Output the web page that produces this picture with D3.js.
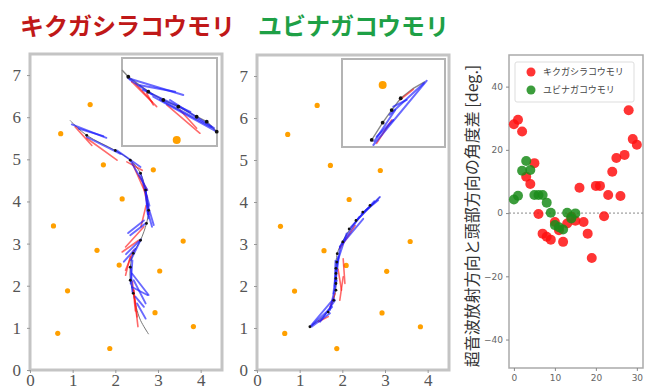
<!DOCTYPE html>
<html>
<head>
<meta charset="utf-8">
<script src="https://cdn.jsdelivr.net/npm/d3@7"></script>
<style>
  body { margin: 0; background: #fff; }
  svg { display: block; font-family: "Noto Sans CJK JP", "Noto Sans", sans-serif; }
</style>
</head>
<body>
<svg id="chart" width="645" height="389"></svg>
<script>
// ---- data ----
// landmarks (orange), same layout for both species
const landmarks = [
	[1.41, 6.30], [0.72, 5.61], [1.72, 4.87], [2.89, 4.75], [2.16, 4.06],
	[0.55, 3.42], [3.59, 3.06], [1.57, 2.84], [2.09, 2.49], [3.04, 2.35],
	[0.88, 1.88], [2.93, 1.36], [0.65, 0.87], [3.83, 1.03], [1.87, 0.51]
];

// キクガシラコウモリ track
const rhPath = [
	[0.94, 5.92], [1.33, 5.57], [2.00, 5.21], [2.35, 4.98], [2.59, 4.67],
	[2.71, 4.27], [2.78, 3.79], [2.73, 3.48], [2.59, 3.08], [2.42, 2.77],
	[2.35, 2.44], [2.35, 2.13], [2.42, 1.82], [2.49, 1.49], [2.59, 1.18], [2.78, 0.85]
];
const rhDots = [
	[1.33, 5.57], [2.00, 5.21], [2.35, 4.98], [2.59, 4.67], [2.71, 4.27],
	[2.78, 3.79], [2.73, 3.48], [2.59, 3.08], [2.42, 2.77], [2.35, 2.44],
	[2.35, 2.13], [2.42, 1.82]
];
// blue: sonar beam direction, red: head direction  [x0, y0, x1, y1]
const rhBlue = [
	[0.98, 5.83, 1.79, 5.51], [1.14, 5.73, 1.72, 5.55], [1.33, 5.53, 2.12, 5.13],
	[2.04, 5.21, 2.59, 4.82], [2.35, 4.98, 2.75, 4.27], [2.75, 3.95, 2.90, 3.44],
	[2.75, 3.79, 2.86, 3.40], [2.71, 3.48, 2.35, 3.20], [2.67, 3.55, 2.30, 3.25],
	[2.47, 2.88, 2.20, 2.57], [2.55, 3.05, 2.25, 2.75], [2.39, 2.29, 2.78, 1.78],
	[2.39, 1.97, 2.75, 1.78], [2.47, 1.74, 2.67, 1.50], [2.51, 1.58, 2.71, 1.22],
	[2.43, 2.13, 2.71, 1.58], [2.40, 2.60, 2.36, 2.05], [2.70, 4.30, 2.76, 3.70],
	[2.59, 4.67, 2.80, 3.90], [2.71, 4.27, 2.78, 3.60], [2.60, 3.10, 2.36, 2.60],
	[2.36, 2.45, 2.40, 1.85]
];
const rhRed = [
	[1.06, 5.77, 1.45, 5.33], [1.33, 5.50, 2.04, 4.98], [2.27, 4.94, 2.63, 4.74],
	[2.55, 4.62, 2.75, 4.27], [2.67, 3.40, 2.24, 2.92], [2.55, 3.08, 2.16, 2.80],
	[2.43, 2.84, 2.24, 2.37], [2.35, 2.69, 2.24, 2.25], [2.43, 1.90, 2.51, 1.26],
	[2.43, 1.90, 2.53, 1.03], [2.40, 2.10, 2.47, 1.40], [2.72, 3.90, 2.60, 3.40],
	[2.40, 4.90, 2.75, 4.10], [2.65, 4.40, 2.80, 3.70]
];
// inset (zoom on the start of the track), inset units
const rhInsetPath = [
	[0.00, 8.00], [0.66, 7.29], [2.77, 5.72], [4.35, 4.84], [5.93, 4.14],
	[7.86, 3.08], [8.92, 2.56], [9.97, 1.51]
];
const rhInsetBlue = [
	[0.66, 7.13, 6.45, 5.37], [1.90, 6.40, 5.60, 5.70], [3.29, 5.19, 9.97, 1.51],
	[5.05, 4.84, 9.68, 1.89], [2.20, 5.90, 7.20, 3.60], [4.00, 4.90, 9.40, 2.00],
	[0.80, 7.00, 3.20, 5.40]
];
const rhInsetRed = [
	[1.02, 6.77, 3.65, 4.14], [2.60, 5.55, 3.29, 4.32], [4.71, 4.32, 8.21, 1.34],
	[6.10, 3.79, 7.86, 1.87], [1.40, 6.60, 3.20, 4.60]
];
const rhInsetMark = [5.76, 0.63];

// ユビナガコウモリ track
const miPath = [
	[1.24, 1.03], [1.63, 1.35], [1.79, 1.66], [1.85, 1.98], [1.85, 2.38],
	[1.88, 2.77], [2.02, 3.09], [2.18, 3.36], [2.37, 3.60], [2.53, 3.80],
	[2.72, 3.96], [2.88, 4.12]
];
const miDots = [
	[1.24, 1.03], [1.67, 1.38], [1.80, 1.66], [1.85, 1.90], [1.85, 2.06],
	[1.85, 2.18], [1.85, 2.30], [1.85, 2.42], [1.87, 2.57], [1.88, 2.77],
	[2.01, 3.05], [2.16, 3.36], [2.32, 3.56], [2.48, 3.76], [2.65, 3.92]
];
const miBlue = [
	[1.28, 1.03, 1.71, 1.35], [1.48, 1.15, 1.83, 1.66], [1.71, 1.43, 1.87, 2.14],
	[1.79, 1.82, 1.90, 2.69], [1.87, 2.53, 2.10, 3.25], [1.94, 2.93, 2.49, 3.60],
	[2.33, 3.56, 2.88, 4.12], [2.45, 3.72, 2.84, 4.04], [1.30, 1.08, 1.76, 1.50],
	[1.82, 2.00, 1.84, 2.60], [1.26, 1.05, 1.80, 1.70], [1.84, 2.10, 1.95, 2.95],
	[1.98, 3.00, 2.40, 3.65], [2.20, 3.40, 2.75, 4.02]
];
const miRed = [
	[1.44, 1.15, 1.67, 1.27], [1.71, 1.50, 1.83, 1.82], [2.02, 2.65, 2.06, 2.06],
	[1.94, 2.89, 2.30, 3.44], [2.02, 2.22, 1.94, 1.66], [1.90, 2.40, 1.98, 1.90]
];
const miInsetPath = [
	[3.13, 0.74], [4.28, 2.56], [5.23, 3.89], [6.18, 5.13], [7.51, 6.18], [8.74, 6.87]
];
const miInsetDots = [[3.13, 0.74], [4.28, 2.56], [5.23, 3.89], [6.18, 5.13]];
const miInsetBlue = [
	[3.30, 0.21, 8.92, 6.98], [3.65, 1.08, 5.40, 2.84], [5.40, 4.24, 6.81, 4.95],
	[3.40, 0.60, 5.60, 3.90], [5.00, 3.40, 8.60, 6.70]
];
const miInsetRed = [[3.65, 0.39, 5.23, 2.84], [6.10, 4.95, 7.51, 6.07]];
const miInsetMark = [4.28, 6.53];

// angle difference between sonar beam and head direction [deg.]
const rhAngle = [
	28.1, 29.5, 25.8, 11.5, 9.2, 15.8, -0.3, -6.5, -7.5, -8.4, -2.8,
	-5.4, -9.1, -3.3, -1.2, -2.4, 8.0, -2.8, -6.5, -14.2, 8.6, 8.6,
	-1.0, 5.7, 13.1, 17.4, 5.4, 18.4, 32.5, 23.4, 21.6
];
const miAngle = [
	4.3, 5.5, 13.4, 16.5, 13.6, 5.7, 5.7, 5.7, 3.3, 0.1, -3.8,
	-4.5, -5.2, 0.1, -1.7, -0.1
];

const titles = ["キクガシラコウモリ", "ユビナガコウモリ"];
const legendLabels = ["キクガシラコウモリ", "ユビナガコウモリ"];
const yLabel = "超音波放射方向と頭部方向の角度差 [deg.]";
const trackTicks = [0, 1, 2, 3, 4];
const trackYTicks = [0, 1, 2, 3, 4, 5, 6, 7];
const angleXTicks = [0, 10, 20, 30];
const angleYTicks = [-40, -20, 0, 20, 40];

// ---- drawing ----
const svg = d3.select("#chart");

svg.append("text").attr("x", 20).attr("y", 35)
   .attr("font-size", 24).attr("font-weight", "bold").attr("fill", "#c01818")
   .text(titles[0]);
svg.append("text").attr("x", 258).attr("y", 35)
   .attr("font-size", 24).attr("font-weight", "bold").attr("fill", "#1ea046")
   .text(titles[1]);

function trackPanel(o) {
	const g = svg.append("g");
	const x = d3.scaleLinear([0, 4.5], [o.left, o.right]);
	const y = d3.scaleLinear([0, 7.5], [370, o.top]);

	// frame
	g.append("rect")
	 .attr("x", o.left).attr("y", o.top)
	 .attr("width", o.right - o.left).attr("height", 370 - o.top)
	 .attr("fill", "#fff").attr("stroke", "#c4c4c4").attr("stroke-width", 3);

	const styleAxis = (a) => {
		a.select(".domain").remove();
		a.selectAll(".tick line").attr("stroke", "#999");
		a.selectAll(".tick text")
		 .attr("font-family", "Liberation Serif, serif")
		 .attr("font-size", 17).attr("fill", "#555");
	};
	g.append("g").attr("transform", `translate(0,370)`)
	 .call(d3.axisBottom(x).tickValues(trackTicks).tickSize(3).tickFormat(d3.format("d")))
	 .call(styleAxis)
	 .call(a => a.selectAll(".tick text").attr("y", 4));
	g.append("g").attr("transform", `translate(${o.left},0)`)
	 .call(d3.axisLeft(y).tickValues(trackYTicks).tickSize(3).tickFormat(d3.format("d")))
	 .call(styleAxis)
	 .call(a => a.selectAll(".tick text").attr("x", -9));

	const line = d3.line().x(d => x(d[0])).y(d => y(d[1])).curve(d3.curveCatmullRom);

	// landmarks
	g.append("g").selectAll("circle").data(landmarks).join("circle")
	 .attr("cx", d => x(d[0])).attr("cy", d => y(d[1])).attr("r", 2.6)
	 .attr("fill", "#ffa000");

	const segs = (sx, sy, data, color, w) => g.append("g").selectAll("line").data(data).join("line")
		.attr("x1", d => sx(d[0])).attr("y1", d => sy(d[1]))
		.attr("x2", d => sx(d[2])).attr("y2", d => sy(d[3]))
		.attr("stroke", color).attr("stroke-width", w).attr("stroke-opacity", 0.65)
		.attr("stroke-linecap", "round");

	g.append("path").attr("d", line(o.path)).attr("fill", "none")
	 .attr("stroke", "#777").attr("stroke-width", 1);
	segs(x, y, o.red, "#ff1a1a", 1.6);
	segs(x, y, o.blue, "#1a1aff", 1.9);
	g.append("g").selectAll("circle").data(o.dots).join("circle")
	 .attr("cx", d => x(d[0])).attr("cy", d => y(d[1])).attr("r", 1.4).attr("fill", "#111");

	// inset
	const [ix, iy, iw, ih] = o.inset;
	g.append("rect").attr("x", ix).attr("y", iy).attr("width", iw).attr("height", ih)
	 .attr("fill", "#fff").attr("stroke", "#b4b4b4").attr("stroke-width", 2);
	const xi = d3.scaleLinear([0, 10], [ix, ix + 95]);
	const yi = d3.scaleLinear([0, 10], [iy + ih, iy + ih - 95]);
	const lineI = d3.line().x(d => xi(d[0])).y(d => yi(d[1]));
	g.append("circle").attr("cx", xi(o.mark[0])).attr("cy", yi(o.mark[1])).attr("r", 4)
	 .attr("fill", "#ffa000");
	g.append("path").attr("d", lineI(o.ipath)).attr("fill", "none")
	 .attr("stroke", "#888").attr("stroke-width", 1.4);
	segs(xi, yi, o.ired, "#ff1a1a", 1.6);
	segs(xi, yi, o.iblue, "#1a1aff", 2);
	g.append("g").selectAll("circle").data(o.idots).join("circle")
	 .attr("cx", d => xi(d[0])).attr("cy", d => yi(d[1])).attr("r", 1.9).attr("fill", "#111");
}

trackPanel({
	left: 30, right: 222, top: 54,
	path: rhPath, dots: rhDots, blue: rhBlue, red: rhRed,
	inset: [122, 58, 95, 88], ipath: rhInsetPath, idots: rhInsetPath.slice(1),
	iblue: rhInsetBlue, ired: rhInsetRed, mark: rhInsetMark
});
trackPanel({
	left: 257, right: 449, top: 55,
	path: miPath, dots: miDots, blue: miBlue, red: miRed,
	inset: [342, 59, 103, 88], ipath: miInsetPath, idots: miInsetDots,
	iblue: miInsetBlue, ired: miInsetRed, mark: miInsetMark
});

// ---- angle scatter ----
(function anglePanel() {
	const L = 509, R = 643, T = 55, B = 368;
	const g = svg.append("g");
	const x = d3.scaleLinear([-1.2, 31.5], [L, R]);
	const y = d3.scaleLinear([-49, 50], [B, T]);

	g.append("rect").attr("x", L).attr("y", T).attr("width", R - L).attr("height", B - T)
	 .attr("fill", "#fff").attr("stroke", "#aaa").attr("stroke-width", 1.5);

	const styleAxis = (a) => {
		a.select(".domain").remove();
		a.selectAll(".tick line").attr("stroke", "#888");
		a.selectAll(".tick text").attr("font-family", "DejaVu Sans, sans-serif")
		 .attr("font-size", 9).attr("fill", "#666");
	};
	g.append("g").attr("transform", `translate(0,${B})`)
	 .call(d3.axisBottom(x).tickValues(angleXTicks).tickSize(3))
	 .call(styleAxis).call(a => a.selectAll(".tick text").attr("y", 7));
	g.append("g").attr("transform", `translate(${L},0)`)
	 .call(d3.axisLeft(y).tickValues(angleYTicks).tickSize(3))
	 .call(styleAxis).call(a => a.selectAll(".tick text").attr("x", -6));

	g.append("line").attr("x1", L).attr("x2", R).attr("y1", y(0)).attr("y2", y(0))
	 .attr("stroke", "#888").attr("stroke-width", 1).attr("stroke-dasharray", "2,2");

	g.append("g").selectAll("circle").data(rhAngle).join("circle")
	 .attr("cx", (d, i) => x(i)).attr("cy", d => y(d)).attr("r", 5)
	 .attr("fill", "#ff1010").attr("fill-opacity", 0.85);
	g.append("g").selectAll("circle").data(miAngle).join("circle")
	 .attr("cx", (d, i) => x(i)).attr("cy", d => y(d)).attr("r", 5)
	 .attr("fill", "#1a8c1a").attr("fill-opacity", 0.85);

	// legend
	const lg = g.append("g");
	lg.append("rect").attr("x", 515).attr("y", 62).attr("width", 119).attr("height", 40)
	  .attr("rx", 2).attr("fill", "#fff").attr("fill-opacity", 0.8)
	  .attr("stroke", "#ddd");
	const colors = ["#ff1010", "#1a8c1a"];
	legendLabels.forEach((t, i) => {
		lg.append("circle").attr("cx", 531).attr("cy", 72 + i * 18).attr("r", 4.5)
		  .attr("fill", colors[i]).attr("fill-opacity", 0.85);
		lg.append("text").attr("x", 543).attr("y", 72 + i * 18).attr("dy", "0.35em")
		  .attr("font-size", 9).attr("fill", "#444").text(t);
	});

	svg.append("text")
	   .attr("transform", `translate(472,216) rotate(-90)`)
	   .attr("text-anchor", "middle").attr("dy", "0.35em")
	   .attr("font-size", 16).attr("fill", "#333").text(yLabel);
})();
</script>
</body>
</html>
